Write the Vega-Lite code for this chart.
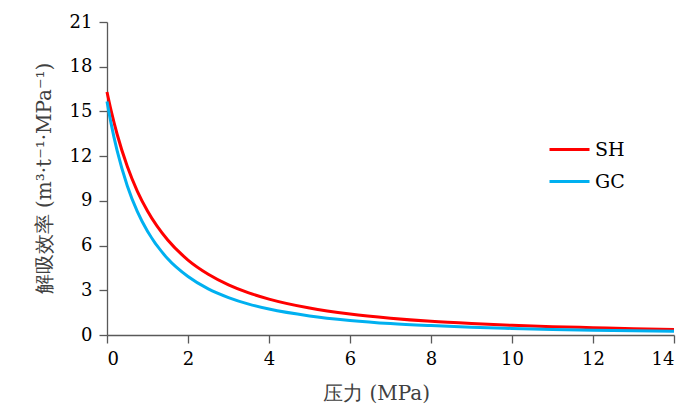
{
  "$schema": "https://vega.github.io/schema/vega-lite/v6.json",
  "autosize": {"type": "none"},
  "width": 567,
  "height": 313,
  "padding": {"left": 107, "top": 22, "right": 26, "bottom": 79},
  "background": "#ffffff",
  "data": {
    "values": [
      {"p": 0, "v": 16.3, "s": "SH"},
      {"p": 0.1, "v": 15.07, "s": "SH"},
      {"p": 0.25, "v": 13.47, "s": "SH"},
      {"p": 0.5, "v": 11.32, "s": "SH"},
      {"p": 0.75, "v": 9.64, "s": "SH"},
      {"p": 1, "v": 8.32, "s": "SH"},
      {"p": 1.5, "v": 6.37, "s": "SH"},
      {"p": 2, "v": 5.03, "s": "SH"},
      {"p": 2.5, "v": 4.08, "s": "SH"},
      {"p": 3, "v": 3.37, "s": "SH"},
      {"p": 3.5, "v": 2.83, "s": "SH"},
      {"p": 4, "v": 2.41, "s": "SH"},
      {"p": 5, "v": 1.81, "s": "SH"},
      {"p": 6, "v": 1.41, "s": "SH"},
      {"p": 7, "v": 1.13, "s": "SH"},
      {"p": 8, "v": 0.92, "s": "SH"},
      {"p": 9, "v": 0.77, "s": "SH"},
      {"p": 10, "v": 0.65, "s": "SH"},
      {"p": 11, "v": 0.56, "s": "SH"},
      {"p": 12, "v": 0.49, "s": "SH"},
      {"p": 13, "v": 0.42, "s": "SH"},
      {"p": 14, "v": 0.37, "s": "SH"},
      {"p": 0, "v": 15.66, "s": "GC"},
      {"p": 0.1, "v": 14.2, "s": "GC"},
      {"p": 0.25, "v": 12.37, "s": "GC"},
      {"p": 0.5, "v": 10.02, "s": "GC"},
      {"p": 0.75, "v": 8.28, "s": "GC"},
      {"p": 1, "v": 6.96, "s": "GC"},
      {"p": 1.5, "v": 5.11, "s": "GC"},
      {"p": 2, "v": 3.92, "s": "GC"},
      {"p": 2.5, "v": 3.09, "s": "GC"},
      {"p": 3, "v": 2.51, "s": "GC"},
      {"p": 3.5, "v": 2.07, "s": "GC"},
      {"p": 4, "v": 1.74, "s": "GC"},
      {"p": 5, "v": 1.28, "s": "GC"},
      {"p": 6, "v": 0.98, "s": "GC"},
      {"p": 7, "v": 0.77, "s": "GC"},
      {"p": 8, "v": 0.63, "s": "GC"},
      {"p": 9, "v": 0.52, "s": "GC"},
      {"p": 10, "v": 0.44, "s": "GC"},
      {"p": 11, "v": 0.37, "s": "GC"},
      {"p": 12, "v": 0.32, "s": "GC"},
      {"p": 13, "v": 0.28, "s": "GC"},
      {"p": 14, "v": 0.25, "s": "GC"}
    ]
  },
  "mark": {"type": "line", "strokeWidth": 3, "interpolate": "monotone"},
  "encoding": {
    "x": {
      "field": "p",
      "type": "quantitative",
      "scale": {"domain": [0, 14], "nice": false},
      "axis": {
        "values": [0, 2, 4, 6, 8, 10, 12, 14],
        "title": "压力 (MPa)",
        "titleX": 269,
        "titleY": 48,
        "titleBaseline": "top",
        "titleAlign": "center"
      }
    },
    "y": {
      "field": "v",
      "type": "quantitative",
      "scale": {"domain": [0, 21], "nice": false},
      "axis": {
        "values": [0, 3, 6, 9, 12, 15, 18, 21],
        "title": "解吸效率 (m³·t⁻¹·MPa⁻¹)",
        "titleX": -63,
        "titleY": 156,
        "titleBaseline": "middle"
      }
    },
    "color": {
      "field": "s",
      "type": "nominal",
      "sort": ["SH", "GC"],
      "scale": {"domain": ["SH", "GC"], "range": ["#ff0000", "#00b0f0"]},
      "legend": {
        "title": null,
        "orient": "none",
        "legendX": 441,
        "legendY": 106,
        "symbolType": "stroke",
        "symbolSize": 1600,
        "symbolStrokeWidth": 3,
        "labelFontSize": 19,
        "labelFont": "DejaVu Serif",
        "labelColor": "#000000",
        "rowPadding": -5,
        "labelOffset": 4
      }
    }
  },
  "config": {
    "view": {"stroke": null},
    "axis": {
      "grid": false,
      "domainColor": "#595959",
      "tickColor": "#595959",
      "domainWidth": 1.3,
      "tickWidth": 1.3,
      "tickSize": 8,
      "labelFont": "DejaVu Serif",
      "labelFontSize": 18,
      "labelColor": "#000000",
      "labelPadding": 7,
      "titleFont": "DejaVu Serif",
      "titleFontSize": 20,
      "titleFontWeight": "normal",
      "titleColor": "#404040"
    }
  }
}
